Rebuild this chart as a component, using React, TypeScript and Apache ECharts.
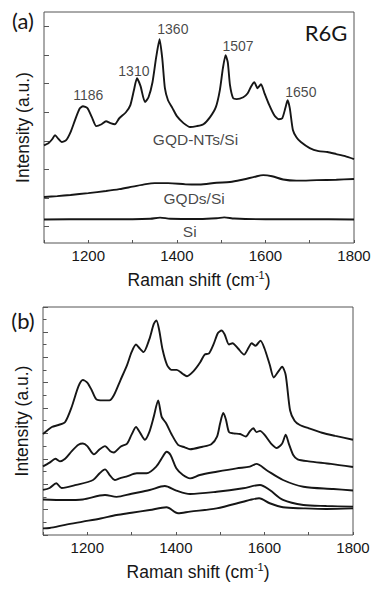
import React, { useEffect, useRef } from 'react';
import * as echarts from 'echarts';

// ---------- Panel (a) data (wavenumber, intensity a.u.) ----------
const gqdNtsSi: number[][] = [
  [1100, 42.3], [1110, 43.2], [1118, 44.8], [1125, 46.7], [1132, 45.2], [1140, 43.7], [1150, 44.5],
  [1160, 48], [1170, 53.2], [1180, 58], [1188, 59.2], [1198, 58.4], [1208, 54.5], [1218, 50.6],
  [1230, 51.4], [1240, 52.7], [1250, 51.9], [1260, 51.4], [1270, 54], [1285, 56.6], [1295, 59.7],
  [1303, 66.1], [1310, 71.3], [1318, 67.9], [1328, 61], [1336, 63.1], [1345, 69.6], [1353, 80],
  [1361, 88.2], [1367, 80], [1373, 67], [1380, 61.8], [1390, 58.4], [1400, 54.9], [1415, 51.9],
  [1430, 50.2], [1445, 50.6], [1460, 51.4], [1475, 54.5], [1488, 58.8], [1497, 66.1], [1504, 75.7],
  [1510, 81.3], [1515, 78.2], [1520, 68.3], [1527, 62.7], [1535, 62.3], [1550, 63.1], [1560, 64.8],
  [1568, 67.9], [1575, 69.6], [1582, 67], [1590, 68.7], [1598, 64.8], [1608, 60], [1620, 55.3],
  [1630, 53.6], [1638, 54], [1645, 58.4], [1650, 61.8], [1655, 58.4], [1662, 48.9], [1670, 45.8],
  [1680, 43.7], [1700, 41.1], [1720, 39.8], [1740, 39.4], [1760, 38.5], [1780, 37.6], [1800, 36.3],
];
const gqdsSi: number[][] = [
  [1100, 19.9], [1130, 20.3], [1160, 20.8], [1200, 21.6], [1240, 22.5], [1270, 23.3], [1300, 24.4],
  [1330, 25.5], [1350, 25.9], [1380, 25.9], [1420, 25.4], [1450, 25.3], [1490, 26.1], [1520, 26.4],
  [1550, 27.5], [1575, 28.6], [1595, 29.4], [1615, 28.9], [1640, 27.5], [1670, 27.0], [1716, 27.2],
  [1760, 27.4], [1800, 27.7],
];
const si: number[][] = [
  [1100, 10.2], [1200, 10.3], [1300, 10.3], [1340, 10.5], [1362, 11.0], [1385, 10.5], [1450, 10.4],
  [1490, 10.7], [1507, 11.1], [1530, 10.6], [1600, 10.3], [1700, 10.3], [1800, 10.2],
];
const peakLabels: (number | string)[][] = [
  [1200, 64.1, '1186'], [1303, 74.4, '1310'], [1391, 92.8, '1360'], [1538, 85.3, '1507'], [1680, 65.3, '1650'],
];
const curveLabelsA: (number | string)[][] = [
  [1442, 45, 'GQD-NTs/Si'], [1439, 19.3, 'GQDs/Si'], [1429, 4.9, 'Si'],
];
const yTicksA = [7.05, 19.45, 31.85, 44.25, 56.65, 69.05, 81.45, 93.85];

// ---------- Panel (b) data ----------
const b1: number[][] = [
  [1100, 7.95], [1120, 8.5], [1135, 8.66], [1150, 8.9], [1165, 10.1], [1180, 11.7], [1190, 12.2],
  [1200, 12.0], [1210, 11.4], [1220, 10.7], [1235, 10.6], [1250, 10.6], [1260, 11], [1275, 12.2],
  [1290, 13.4], [1300, 14.4], [1310, 15], [1318, 14.7], [1327, 14.4], [1340, 15.4], [1350, 16.6],
  [1356, 16.9], [1362, 16.2], [1370, 14.6], [1380, 13.4], [1390, 13.0], [1402, 13.0], [1415, 12.7],
  [1425, 12.5], [1440, 12.9], [1455, 13.6], [1465, 14.2], [1475, 14.3], [1485, 15], [1495, 15.9],
  [1503, 16.1], [1510, 15.8], [1520, 15.0], [1528, 15.1], [1540, 14.7], [1554, 14.2], [1565, 14.8],
  [1571, 15.1], [1580, 14.9], [1591, 15.3], [1600, 14.7], [1612, 13.4], [1621, 12.4], [1632, 12.9],
  [1640, 13.25], [1648, 12.6], [1658, 9.8], [1668, 9.0], [1680, 8.66], [1700, 8.4], [1730, 8.05],
  [1760, 7.8], [1800, 7.5],
];
const b2: number[][] = [
  [1100, 5.4], [1115, 5.7], [1128, 6.0], [1138, 5.8], [1150, 6.0], [1165, 6.6], [1180, 7.1],
  [1190, 7.2], [1200, 7.0], [1215, 6.35], [1228, 6.75], [1240, 7.0], [1252, 6.6], [1260, 6.5],
  [1275, 6.95], [1290, 7.2], [1300, 7.9], [1310, 8.5], [1320, 8.0], [1330, 7.5], [1340, 8.1],
  [1350, 9.3], [1360, 10.6], [1368, 9.3], [1378, 8.8], [1390, 7.95], [1405, 7.1], [1420, 6.9],
  [1432, 6.75], [1460, 6.95], [1480, 7.15], [1493, 7.75], [1500, 8.8], [1507, 9.6], [1513, 9.1],
  [1520, 8.1], [1530, 8.0], [1545, 7.95], [1558, 7.75], [1568, 8.2], [1575, 8.4], [1582, 8.1],
  [1590, 8.2], [1600, 7.9], [1615, 7.2], [1628, 6.85], [1640, 7.2], [1648, 7.9], [1655, 7.2],
  [1665, 6.3], [1675, 5.96], [1700, 5.8], [1750, 5.6], [1800, 5.35],
];
const b3: number[][] = [
  [1100, 3.55], [1115, 3.7], [1130, 4.07], [1142, 3.7], [1175, 3.94], [1213, 4.33], [1228, 4.86],
  [1240, 5.17], [1251, 4.7], [1262, 4.33], [1273, 4.46], [1288, 4.6], [1312, 4.86], [1334, 4.86],
  [1356, 5.4], [1371, 6.2], [1379, 6.56], [1388, 6.3], [1401, 5.25], [1416, 4.72], [1432, 4.46],
  [1454, 4.72], [1492, 4.98], [1537, 5.25], [1567, 5.38], [1582, 5.6], [1605, 5.1], [1642, 4.33],
  [1688, 3.8], [1756, 3.62], [1800, 3.5],
];
const b4: number[][] = [
  [1100, 2.8], [1150, 2.75], [1190, 2.8], [1240, 3.15], [1266, 3.0], [1300, 3.25], [1341, 3.54],
  [1375, 3.86], [1401, 3.5], [1432, 3.23], [1492, 3.4], [1552, 3.68], [1590, 3.94], [1612, 3.54],
  [1642, 2.76], [1688, 2.36], [1740, 2.28], [1800, 2.23],
];
const b5: number[][] = [
  [1100, 0.52], [1115, 0.55], [1150, 0.8], [1190, 1.05], [1230, 1.3], [1266, 1.57], [1300, 1.75],
  [1341, 1.97], [1379, 2.18], [1405, 1.71], [1432, 1.84], [1492, 2.1], [1552, 2.62], [1567, 2.76],
  [1588, 2.89], [1612, 2.5], [1642, 2.18], [1688, 2.1], [1740, 2.05], [1800, 2.1],
];

const SANS = '"Liberation Sans", Arial, sans-serif';
const INK = '#161616';
const FRAME = '#555';

function xAxisFor(gridIndex: number) {
  return {
    gridIndex,
    type: 'value',
    min: 1100,
    max: 1800,
    interval: 100,
    axisLine: { show: false },
    axisTick: { show: true, inside: true, length: 3, lineStyle: { color: FRAME } },
    splitLine: { show: false },
    axisLabel: {
      formatter: (v: number) => (v % 200 === 0 ? String(v) : ''),
      fontSize: 15,
      fontFamily: SANS,
      color: INK,
      margin: 5,
    },
    name: '{t|Raman shift (cm}{s|-1}{t|)}',
    nameLocation: 'middle',
    nameGap: 26,
    nameTextStyle: {
      rich: {
        t: { fontSize: 17.5, fontFamily: SANS, color: INK, lineHeight: 22 },
        s: { fontSize: 11, fontFamily: SANS, color: INK, verticalAlign: 'top', lineHeight: 12 },
      },
    },
  };
}

function lineSeries(data: number[][], idx: number, smooth: number) {
  return {
    type: 'line',
    xAxisIndex: idx,
    yAxisIndex: idx,
    data,
    symbol: 'none',
    smooth,
    silent: true,
    lineStyle: { color: INK, width: 1.9 },
  };
}

export default function App() {
  const ref = useRef<HTMLDivElement>(null);
  useEffect(() => {
    const chart = echarts.init(ref.current!, null, { renderer: 'svg' });
    chart.setOption({
      animation: false,
      backgroundColor: '#fff',
      grid: [
        { left: 44, top: 12, width: 310, height: 231, show: true, borderColor: FRAME, borderWidth: 1 },
        { left: 43, top: 307, width: 310, height: 228, show: true, borderColor: FRAME, borderWidth: 1 },
      ],
      xAxis: [xAxisFor(0), xAxisFor(1)],
      yAxis: [
        {
          gridIndex: 0, type: 'value', min: 0, max: 100,
          axisLine: { show: false },
          axisLabel: { show: false },
          splitLine: { show: false },
          axisTick: { show: true, inside: true, length: 5, customValues: yTicksA, lineStyle: { color: FRAME } },
          name: 'Intensity (a.u.)', nameLocation: 'middle', nameRotate: 90, nameGap: 12,
          nameTextStyle: { fontSize: 17.5, fontFamily: SANS, color: INK },
        },
        {
          gridIndex: 1, type: 'value', min: 0, max: 17.95, interval: 2,
          axisLine: { show: false },
          axisLabel: { show: false },
          splitLine: { show: false },
          axisTick: { show: true, inside: true, length: 5, lineStyle: { color: FRAME } },
          minorTick: { show: true, splitNumber: 2, length: 3.5, lineStyle: { color: FRAME } },
          name: 'Intensity (a.u.)', nameLocation: 'middle', nameRotate: 90, nameGap: 12,
          nameTextStyle: { fontSize: 17.5, fontFamily: SANS, color: INK },
        },
      ],
      series: [
        lineSeries(gqdNtsSi, 0, 0.2),
        lineSeries(gqdsSi, 0, 0.3),
        lineSeries(si, 0, 0.3),
        {
          type: 'scatter', xAxisIndex: 0, yAxisIndex: 0, symbolSize: 0, silent: true,
          data: peakLabels,
          label: { show: true, position: 'inside', formatter: (p: any) => p.data[2], fontSize: 14, fontFamily: SANS, color: INK },
        },
        {
          type: 'scatter', xAxisIndex: 0, yAxisIndex: 0, symbolSize: 0, silent: true,
          data: curveLabelsA,
          label: { show: true, position: 'inside', formatter: (p: any) => p.data[2], fontSize: 15.5, fontFamily: SANS, color: INK },
        },
        lineSeries(b1, 1, 0.25),
        lineSeries(b2, 1, 0.25),
        lineSeries(b3, 1, 0.3),
        lineSeries(b4, 1, 0.3),
        lineSeries(b5, 1, 0.3),
      ],
      graphic: [
        { type: 'text', x: 23, y: 20, style: { text: '(a)', font: '22px Lato, "Open Sans", sans-serif', fill: INK, textAlign: 'center', textVerticalAlign: 'middle' } },
        { type: 'text', x: 23, y: 320, style: { text: '(b)', font: '22px Lato, "Open Sans", sans-serif', fill: INK, textAlign: 'center', textVerticalAlign: 'middle' } },
        { type: 'text', x: 326, y: 32, style: { text: 'R6G', font: '22px Lato, "Open Sans", sans-serif', fill: INK, textAlign: 'center', textVerticalAlign: 'middle' } },
      ],
    });
    return () => chart.dispose();
  }, []);
  return <div ref={ref} style={{ position: 'fixed', left: 0, top: 0, width: 374, height: 589, background: '#fff' }} />;
}
